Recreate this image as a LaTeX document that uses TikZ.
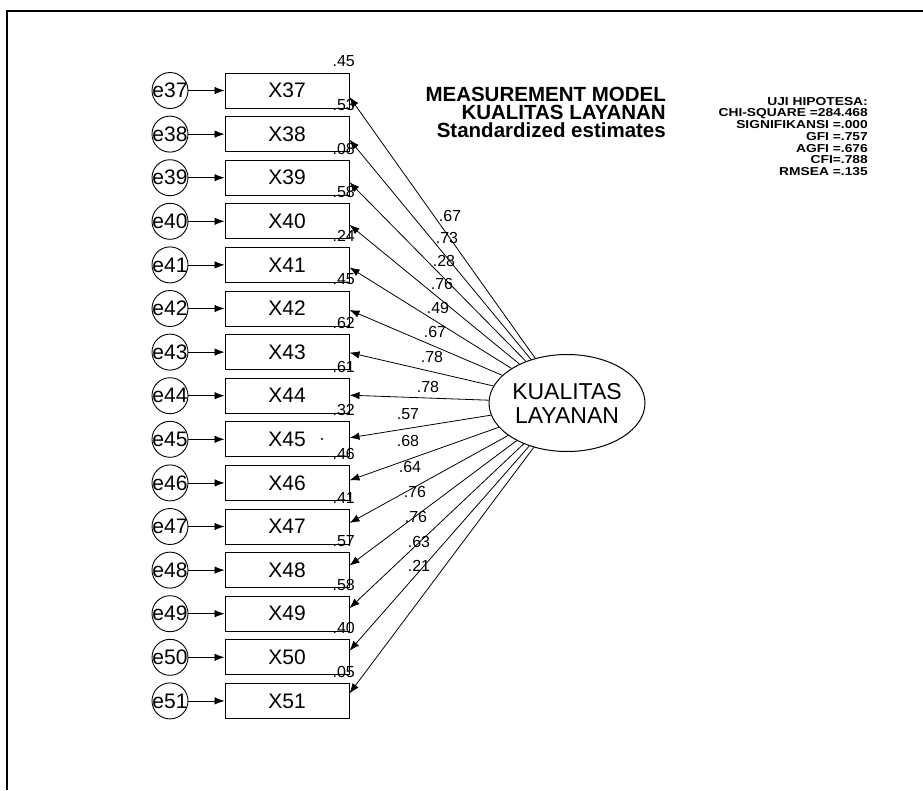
\documentclass[tikz,border=0pt]{standalone}
\usepackage{fontspec}
\setmainfont{Liberation Sans}
\newfontfamily\gofont[FakeStretch=1.2]{Liberation Sans Bold}
\usetikzlibrary{arrows.meta,shapes.geometric,calc}
\begin{document}
\begin{tikzpicture}[x=1pt,y=-1pt,
 obs/.style={draw,line width=1pt,minimum width=124pt,minimum height=35pt,inner sep=0pt,font=\fontsize{21}{24}\selectfont},
 err/.style={draw,circle,line width=0.9pt,minimum size=36pt,inner sep=0pt,font=\fontsize{21}{24}\selectfont},
 lat/.style={draw,ellipse,line width=1pt,minimum width=156pt,minimum height=97pt,inner sep=0pt,align=center,font=\fontsize{23}{24}\selectfont},
 arr/.style={line width=0.8pt,-{Latex[length=10pt,width=7.5pt]}},
 est/.style={font=\fontsize{16}{16}\selectfont,inner sep=0pt},
 ttl/.style={font=\fontsize{20.5}{17.8}\bfseries\selectfont,align=right,anchor=north east,inner sep=0pt},
 gof/.style={font=\fontsize{11.5}{11.7}\gofont\selectfont,align=right,anchor=north east,inner sep=0pt}
]
\useasboundingbox (0,0) rectangle (923,790);
\draw[line width=2pt] (923,11) -- (7,11) -- (7,790);

\node[lat] (lat) at (567,403) {KUALITAS\\LAYANAN};

\foreach \i/\r/\l/\lx/\ly in {0/.45/.67/450/216, 1/.53/.73/447/238, 2/.08/.28/444/261, 3/.58/.76/442/284, 4/.24/.49/438/308, 5/.45/.67/435/332, 6/.62/.78/432/357, 7/.61/.78/428/387, 8/.32/.57/408/414, 9/.46/.68/408/441, 10/.41/.64/410/467, 11/.57/.76/415/492, 12/.58/.76/416/517, 13/.40/.63/419/542, 14/.05/.21/419/566}{
  \pgfmathsetmacro{\yy}{90.5+43.6*\i}
  \pgfmathtruncatemacro{\n}{37+\i}
  \pgfmathsetmacro{\ty}{97+42.6*\i}
  \pgfmathsetmacro{\ry}{\yy-29}
  \node[obs] (x\n) at (287,\yy) {X\n};
  \node[err] (e\n) at (170,\yy) {\makebox[0pt]{e\n}};
  \draw[arr] (e\n) -- (x\n);
  \coordinate (t\n) at (349.5,\ty);
  \draw[arr] (lat) -- (t\n);
  \node[est,anchor=east] (r\n) at (355,\ry) {\r};
  \node[est] (l\n) at (\lx,\ly) {\l};
}
\fill (322,439) circle (1.2);

\node[ttl] (ttl) at (666,87) {MEASUREMENT MODEL\\KUALITAS LAYANAN\\Standardized estimates};

\node[gof] (gof) at (868,97) {UJI HIPOTESA:\\CHI-SQUARE =284.468\\SIGNIFIKANSI =.000\\GFI =.757\\AGFI =.676\\CFI=.788\\RMSEA =.135};
\end{tikzpicture}
\end{document}
